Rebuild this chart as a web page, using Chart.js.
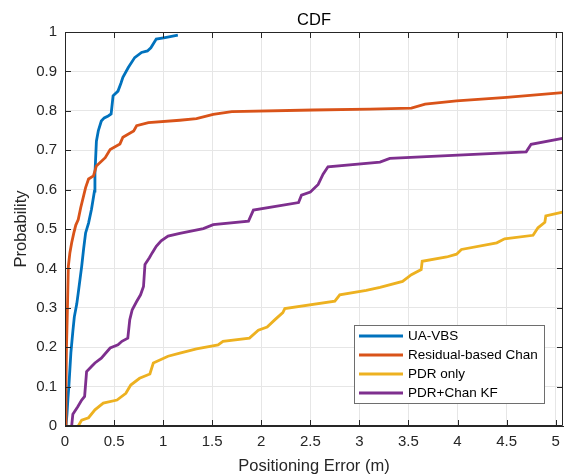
<!DOCTYPE html>
<html>
<head>
<meta charset="utf-8">
<script src="https://cdn.jsdelivr.net/npm/chart.js@4.4.1/dist/chart.umd.min.js"></script>
<style>
html,body{margin:0;padding:0;background:#fff;}
canvas{display:block;}
</style>
</head>
<body>
<canvas id="c" width="567" height="475"></canvas>
<script>
// ---- data ----
const seriesNames = ["UA-VBS", "Residual-based Chan", "PDR only", "PDR+Chan KF"];
const seriesColors = ["#0072BD", "#D95319", "#EDB120", "#7E2F8E"];

const uaX = [0.01,0.02,0.03,0.04,0.06,0.08,0.095,0.12,0.135,0.17,0.19,0.21,0.24,0.27,0.30,0.305,0.32,0.34,0.37,0.40,0.44,0.47,0.49,0.54,0.57,0.59,0.645,0.71,0.78,0.84,0.875,0.93,1.02,1.15];
const uaY = [0,0.03,0.07,0.104,0.186,0.24,0.277,0.31,0.338,0.405,0.45,0.49,0.515,0.55,0.596,0.639,0.723,0.75,0.774,0.782,0.787,0.792,0.838,0.85,0.87,0.885,0.91,0.935,0.948,0.952,0.96,0.982,0.986,0.992];

const rbX = [0.005,0.01,0.015,0.025,0.034,0.05,0.068,0.09,0.11,0.135,0.16,0.21,0.24,0.29,0.32,0.41,0.46,0.56,0.59,0.70,0.73,0.85,1.17,1.34,1.51,1.70,2.53,3.11,3.53,3.67,3.99,4.50,5.07];
const rbY = [0,0.1,0.2,0.3,0.405,0.44,0.465,0.49,0.51,0.524,0.554,0.605,0.627,0.635,0.66,0.681,0.702,0.716,0.733,0.749,0.762,0.77,0.776,0.78,0.791,0.798,0.802,0.804,0.807,0.817,0.825,0.834,0.846];

const pdrX = [0.135,0.17,0.24,0.305,0.39,0.53,0.62,0.67,0.76,0.865,0.90,1.05,1.17,1.34,1.56,1.61,1.88,1.97,2.06,2.14,2.22,2.24,2.75,2.80,3.07,3.21,3.44,3.53,3.63,3.64,3.89,3.99,4.04,4.40,4.48,4.77,4.82,4.89,4.90,5.07];
const pdrY = [0,0.015,0.021,0.041,0.058,0.066,0.083,0.104,0.121,0.132,0.160,0.177,0.185,0.196,0.206,0.215,0.223,0.243,0.251,0.27,0.288,0.298,0.317,0.333,0.344,0.352,0.367,0.384,0.397,0.418,0.429,0.436,0.448,0.465,0.475,0.484,0.503,0.517,0.533,0.543];

const kfX = [0.068,0.08,0.13,0.17,0.20,0.22,0.27,0.305,0.37,0.46,0.54,0.58,0.64,0.66,0.685,0.73,0.77,0.80,0.815,0.86,0.89,0.93,0.98,1.05,1.17,1.41,1.51,1.87,1.92,2.38,2.41,2.50,2.58,2.63,2.68,3.21,3.31,4.70,4.75,5.07];
const kfY = [0,0.03,0.049,0.066,0.075,0.138,0.151,0.16,0.172,0.198,0.206,0.215,0.223,0.27,0.295,0.316,0.333,0.354,0.41,0.427,0.44,0.456,0.47,0.482,0.489,0.501,0.511,0.52,0.548,0.567,0.586,0.594,0.613,0.639,0.658,0.67,0.679,0.696,0.715,0.730];

const xTicks = [0,0.5,1,1.5,2,2.5,3,3.5,4,4.5,5];
const yTicks = [0,0.1,0.2,0.3,0.4,0.5,0.6,0.7,0.8,0.9,1];
const xRange = [0, 5.075];
const yRange = [0, 1];
const titleText = "CDF";
const xLabel = "Positioning Error (m)";
const yLabel = "Probability";

// ---- build chart ----
const FONT = "'Liberation Sans', Arial, Helvetica, sans-serif";
const AX = "#262626";
function pts(xs, ys){ return xs.map((x,i)=>({x:x, y:ys[i]})); }
const allX = [uaX, rbX, pdrX, kfX];
const allY = [uaY, rbY, pdrY, kfY];

const datasets = seriesNames.map((n,i)=>({
  label: n,
  data: pts(allX[i], allY[i]),
  borderColor: seriesColors[i],
  backgroundColor: seriesColors[i],
  borderWidth: 2.8,
  pointRadius: 0,
  tension: 0,
  fill: false,
  order: 4 - i
}));

const boxPlugin = {
  id: 'matlabBox',
  afterDraw(chart){
    const ctx = chart.ctx, a = chart.chartArea;
    const xs = chart.scales.x, ys = chart.scales.y;
    ctx.save();
    ctx.strokeStyle = AX; ctx.lineWidth = 1;
    ctx.beginPath();
    ctx.rect(a.left+0.5, a.top+0.5, a.right-a.left-1, a.bottom-a.top-1);
    ctx.stroke();
    const tl = 6;
    ctx.beginPath();
    xTicks.forEach(v=>{
      const px = Math.round(xs.getPixelForValue(v))+0.5;
      ctx.moveTo(px, a.bottom); ctx.lineTo(px, a.bottom - tl);
      ctx.moveTo(px, a.top); ctx.lineTo(px, a.top + tl);
    });
    yTicks.forEach(v=>{
      const py = Math.round(ys.getPixelForValue(v))+0.5;
      ctx.moveTo(a.left, py); ctx.lineTo(a.left + tl, py);
      ctx.moveTo(a.right, py); ctx.lineTo(a.right - tl, py);
    });
    ctx.stroke();
    // title
    ctx.fillStyle = "#000";
    ctx.font = "16.5px " + FONT;
    ctx.textAlign = 'center'; ctx.textBaseline = 'middle';
    ctx.fillText(titleText, (a.left + a.right)/2, 20);
    // legend
    const lx = 354, ly = 325, lw = 191, lh = 79;
    ctx.fillStyle = "#fff";
    ctx.fillRect(lx, ly, lw, lh);
    ctx.strokeStyle = "#6e6e6e";
    ctx.strokeRect(lx+0.5, ly+0.5, lw-1, lh-1);
    ctx.font = "13.5px " + FONT;
    ctx.textAlign = 'left';
    chart.data.datasets.forEach((d,i)=>{
      const cy = ly + 11 + i*19;
      ctx.strokeStyle = d.borderColor; ctx.lineWidth = 2.8;
      ctx.beginPath(); ctx.moveTo(lx+5, cy); ctx.lineTo(lx+49, cy); ctx.stroke();
      ctx.fillStyle = "#000";
      ctx.fillText(d.label, lx+54, cy+0.5);
    });
    ctx.restore();
  }
};

new Chart(document.getElementById('c'), {
  type: 'line',
  data: { datasets: datasets },
  plugins: [boxPlugin],
  options: {
    responsive: false,
    animation: false,
    devicePixelRatio: 1,
    layout: { padding: { top: 32, right: 4, left: 0, bottom: 0 } },
    plugins: { legend: { display: false }, title: { display: false }, tooltip: { enabled: false } },
    scales: {
      x: {
        type: 'linear', min: xRange[0], max: xRange[1],
        afterFit(s){ s.height = 49; },
        afterBuildTicks(s){ s.ticks = xTicks.map(v=>({value:v})); },
        grid: { color: '#e6e6e6', drawTicks: false, lineWidth: 1 },
        border: { color: AX, width: 1 },
        ticks: { color: AX, padding: 7, font: { family: FONT, size: 15 }, maxRotation: 0, autoSkip: false,
                 callback: v => String(v) },
        title: { display: true, text: xLabel, color: AX, font: { family: FONT, size: 16.5 }, padding: { top: 0, bottom: -1 } }
      },
      y: {
        type: 'linear', min: yRange[0], max: yRange[1],
        afterFit(s){ s.width = 65; },
        afterBuildTicks(s){ s.ticks = yTicks.map(v=>({value:v})); },
        grid: { color: '#e6e6e6', drawTicks: false, lineWidth: 1 },
        border: { color: AX, width: 1 },
        ticks: { color: AX, padding: 8, font: { family: FONT, size: 15 }, autoSkip: false,
                 callback: v => String(v) },
        title: { display: true, text: yLabel, color: AX, font: { family: FONT, size: 16.5 }, padding: { top: 12, bottom: 0 } }
      }
    }
  }
});
</script>
</body>
</html>
